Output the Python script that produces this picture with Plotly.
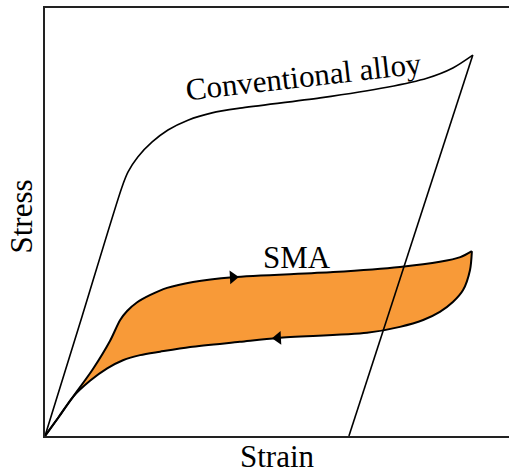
import plotly.graph_objects as go

# Schematic stress-strain curves (arbitrary units, 0-10 on both axes)

# Conventional alloy: loading branch
conv_strain = [0.0, 0.80, 1.66, 1.79, 2.00, 2.31, 2.65, 3.08, 3.60, 4.20, 5.93, 7.37, 8.23, 8.79, 9.22]
conv_stress = [0.0, 2.80, 5.82, 6.17, 6.52, 6.87, 7.15, 7.38, 7.55, 7.66, 7.90, 8.15, 8.36, 8.60, 8.90]
# Conventional alloy: elastic unloading leaving residual strain
unload_strain = [9.22, 6.55]
unload_stress = [8.90, 0.0]

# SMA: loading (upper) branch
sma_up_strain = [0.0, 0.30, 0.60, 1.03, 1.40, 1.62, 1.77, 1.98, 2.26, 2.63, 3.19, 4.05, 6.21, 7.65, 8.51, 8.95, 9.20]
sma_up_stress = [0.0, 0.45, 0.91, 1.56, 2.22, 2.71, 2.92, 3.12, 3.29, 3.46, 3.60, 3.71, 3.83, 3.95, 4.07, 4.18, 4.32]
# SMA: unloading (lower) branch, listed from the origin to the turning point
sma_dn_strain = [0.0, 0.30, 0.60, 0.97, 1.34, 1.68, 2.05, 2.48, 3.13, 4.20, 5.02, 6.94, 7.65, 8.15, 8.51, 8.79, 9.01, 9.16, 9.20]
sma_dn_stress = [0.0, 0.45, 0.91, 1.29, 1.58, 1.77, 1.89, 1.97, 2.08, 2.20, 2.29, 2.41, 2.55, 2.71, 2.90, 3.13, 3.41, 3.88, 4.32]

# Direction markers on the SMA loop (index into each branch)
arrow_up_idx = 11
arrow_dn_idx = 10

SERIF = "Liberation Serif, Times New Roman, serif"
ORANGE = "#F89A38"

fig = go.Figure()

# Hysteresis loop fill between the two SMA branches
fig.add_trace(go.Scatter(
    x=sma_dn_strain, y=sma_dn_stress, mode="lines",
    line=dict(color="black", width=2, shape="spline", smoothing=0.8),
    hoverinfo="skip", showlegend=False))
fig.add_trace(go.Scatter(
    x=sma_up_strain, y=sma_up_stress, mode="lines",
    line=dict(color="black", width=2, shape="spline", smoothing=0.8),
    fill="tonexty", fillcolor=ORANGE,
    hoverinfo="skip", showlegend=False))

# Conventional alloy curve
fig.add_trace(go.Scatter(
    x=conv_strain, y=conv_stress, mode="lines",
    line=dict(color="black", width=1.6, shape="spline", smoothing=0.8),
    hoverinfo="skip", showlegend=False))
fig.add_trace(go.Scatter(
    x=unload_strain, y=unload_stress, mode="lines",
    line=dict(color="black", width=1.6),
    hoverinfo="skip", showlegend=False))

# Loading / unloading direction arrows
fig.add_trace(go.Scatter(
    x=[sma_up_strain[arrow_up_idx]], y=[sma_up_stress[arrow_up_idx]], mode="markers",
    marker=dict(symbol="triangle-right", size=12, color="black", angle=-3),
    hoverinfo="skip", showlegend=False))
fig.add_trace(go.Scatter(
    x=[sma_dn_strain[arrow_dn_idx]], y=[sma_dn_stress[arrow_dn_idx]], mode="markers",
    marker=dict(symbol="triangle-left", size=12, color="black", angle=-3),
    hoverinfo="skip", showlegend=False))

fig.add_annotation(x=5.58, y=8.40, text="Conventional alloy", showarrow=False,
                   textangle=-6.5, font=dict(family=SERIF, size=31, color="black"))
fig.add_annotation(x=5.43, y=4.18, text="SMA", showarrow=False,
                   font=dict(family=SERIF, size=31, color="black"))
fig.add_annotation(x=0.5, y=0, xref="paper", yref="paper", yanchor="top", yshift=-1,
                   text="Strain", showarrow=False,
                   font=dict(family=SERIF, size=31, color="black"))
fig.add_annotation(x=0, y=0.514, xref="paper", yref="paper", xanchor="right", xshift=-4,
                   text="Stress", showarrow=False, textangle=-90,
                   font=dict(family=SERIF, size=31, color="black"))

fig.update_xaxes(range=[0, 10], showgrid=False, zeroline=False, showticklabels=False,
                 ticks="", showline=True, linecolor="#222", linewidth=2, mirror=True)
fig.update_yaxes(range=[0, 10], showgrid=False, zeroline=False, showticklabels=False,
                 ticks="", showline=True, linecolor="#222", linewidth=2, mirror=False)

fig.update_layout(width=509, height=473, margin=dict(l=45, r=0, t=8, b=37),
                  plot_bgcolor="white", paper_bgcolor="white")

fig.write_html("out.html")
